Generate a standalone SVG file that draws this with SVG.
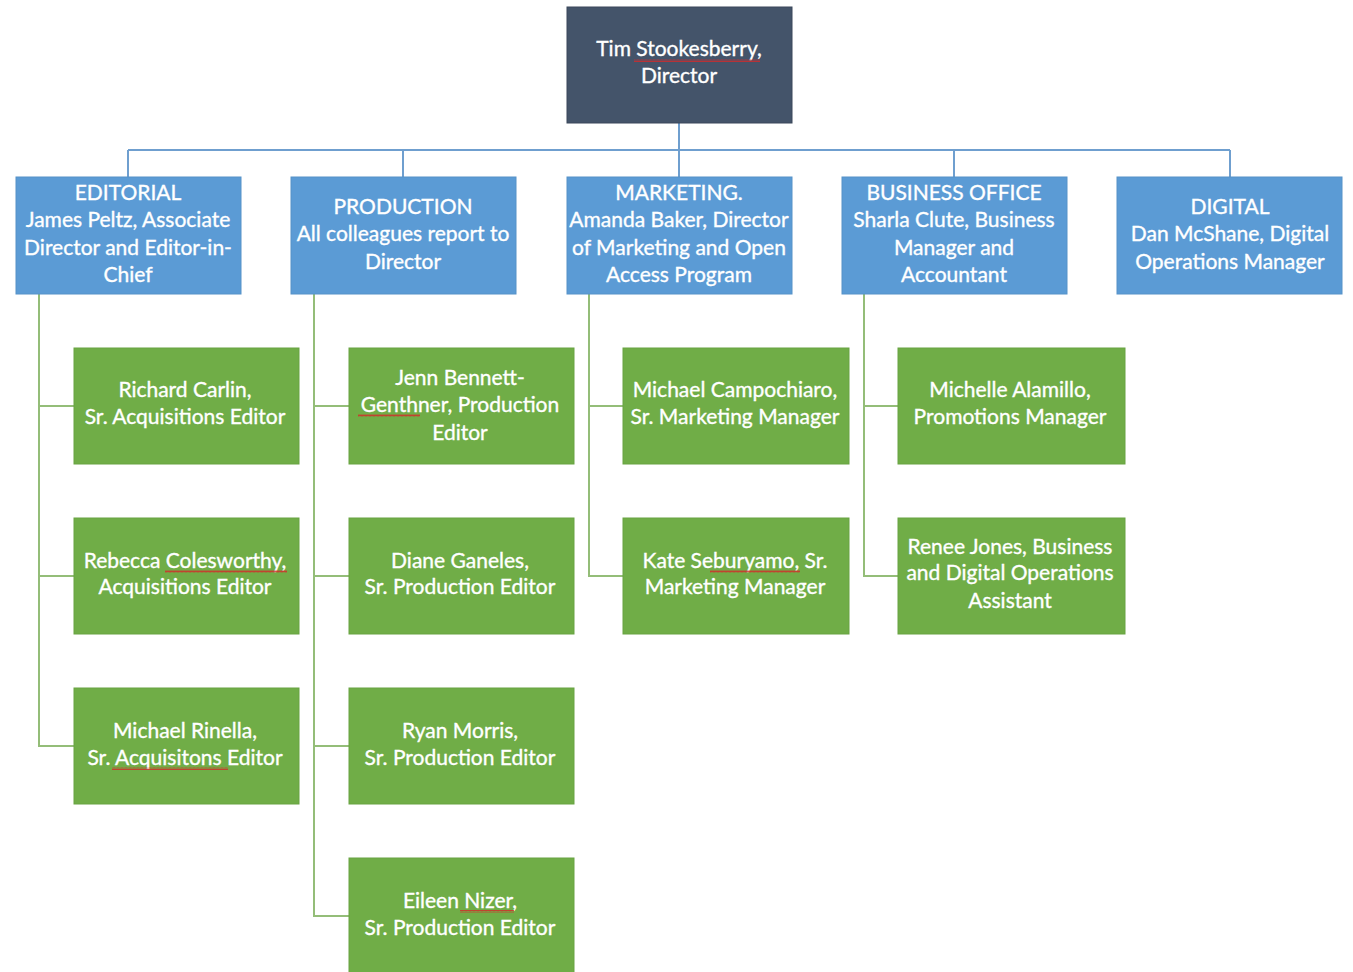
<svg xmlns="http://www.w3.org/2000/svg" width="1353" height="972" viewBox="0 0 1353 972">
<style>
.dir{fill:#44546A;stroke:#3a475a;stroke-width:1}
.dept{fill:#5B9BD5;stroke:#5692c8;stroke-width:1}
.staff{fill:#70AD47;stroke:#69a342;stroke-width:1}
text{font-family:Lato,"Open Sans",sans-serif;font-size:21px;fill:#ffffff;stroke:#ffffff;stroke-width:0.35;text-anchor:middle}
.blue{fill:none;stroke:#6f9fcf;stroke-width:2}
.green{fill:none;stroke:#94bd78;stroke-width:2}
</style>
<defs>
<pattern id="sq" width="4" height="3" patternUnits="userSpaceOnUse">
<path d="M0 2.5 L1 0.5 L2 2.5 L3 0.5 L4 2.5" fill="none" stroke="#d42a2a" stroke-width="0.8"/>
</pattern>
</defs>
<rect width="1353" height="972" fill="#ffffff"/>
<g id="connectors">
<path class="blue" d="M679 123 V150 M128 150 H1230 M128 150 V177 M403 150 V177 M679 150 V177 M954 150 V177 M1230 150 V177"/>
<path class="green" d="M39 294 V746 H74 M39 406 H74 M39 576 H74"/>
<path class="green" d="M314 294 V916 H349 M314 406 H349 M314 576 H349 M314 746 H349"/>
<path class="green" d="M589 294 V576 H623 M589 406 H623"/>
<path class="green" d="M864 294 V576 H898 M864 406 H898"/>
</g>
<g id="director">
<rect class="dir" x="567" y="7" width="225" height="116"/>
<text x="679" y="56">Tim Stookesberry,</text>
<text x="679" y="83">Director</text>
<rect x="634" y="59" width="126" height="3" fill="url(#sq)"/>
</g>
<g id="editorial">
<rect class="dept" x="16" y="177" width="225" height="117"/>
<text x="128" y="200">EDITORIAL</text>
<text x="128" y="227">James Peltz, Associate</text>
<text x="128" y="255">Director and Editor-in-</text>
<text x="128" y="282">Chief</text>
</g>
<g id="production">
<rect class="dept" x="291" y="177" width="225" height="117"/>
<text x="403" y="214">PRODUCTION</text>
<text x="403" y="241">All colleagues report to</text>
<text x="403" y="269">Director</text>
</g>
<g id="marketing">
<rect class="dept" x="567" y="177" width="225" height="117"/>
<text x="679" y="200">MARKETING.</text>
<text x="679" y="227">Amanda Baker, Director</text>
<text x="679" y="255">of Marketing and Open</text>
<text x="679" y="282">Access Program</text>
</g>
<g id="business">
<rect class="dept" x="842" y="177" width="225" height="117"/>
<text x="954" y="200">BUSINESS OFFICE</text>
<text x="954" y="227">Sharla Clute, Business</text>
<text x="954" y="255">Manager and</text>
<text x="954" y="282">Accountant</text>
</g>
<g id="digital">
<rect class="dept" x="1117" y="177" width="225" height="117"/>
<text x="1230" y="214">DIGITAL</text>
<text x="1230" y="241">Dan McShane, Digital</text>
<text x="1230" y="269">Operations Manager</text>
</g>
<g id="carlin">
<rect class="staff" x="74" y="348" width="225" height="116"/>
<text x="185" y="397">Richard Carlin,</text>
<text x="185" y="424">Sr. Acquisitions Editor</text>
</g>
<g id="colesworthy">
<rect class="staff" x="74" y="518" width="225" height="116"/>
<text x="185" y="568">Rebecca Colesworthy,</text>
<text x="185" y="594">Acquisitions Editor</text>
<rect x="165" y="570" width="122" height="3" fill="url(#sq)"/>
</g>
<g id="rinella">
<rect class="staff" x="74" y="688" width="225" height="116"/>
<text x="185" y="738">Michael Rinella,</text>
<text x="185" y="765">Sr. Acquisitons Editor</text>
<rect x="112" y="767" width="116" height="3" fill="url(#sq)"/>
</g>
<g id="bennett">
<rect class="staff" x="349" y="348" width="225" height="116"/>
<text x="460" y="385">Jenn Bennett-</text>
<text x="460" y="412">Genthner, Production</text>
<text x="460" y="440">Editor</text>
<rect x="358" y="414" width="62" height="3" fill="url(#sq)"/>
</g>
<g id="ganeles">
<rect class="staff" x="349" y="518" width="225" height="116"/>
<text x="460" y="568">Diane Ganeles,</text>
<text x="460" y="594">Sr. Production Editor</text>
</g>
<g id="morris">
<rect class="staff" x="349" y="688" width="225" height="116"/>
<text x="460" y="738">Ryan Morris,</text>
<text x="460" y="765">Sr. Production Editor</text>
</g>
<g id="nizer">
<rect class="staff" x="349" y="858" width="225" height="116"/>
<text x="460" y="908">Eileen Nizer,</text>
<text x="460" y="935">Sr. Production Editor</text>
<rect x="460" y="910" width="54" height="3" fill="url(#sq)"/>
</g>
<g id="campochiaro">
<rect class="staff" x="623" y="348" width="226" height="116"/>
<text x="735" y="397">Michael Campochiaro,</text>
<text x="735" y="424">Sr. Marketing Manager</text>
</g>
<g id="seburyamo">
<rect class="staff" x="623" y="518" width="226" height="116"/>
<text x="735" y="568">Kate Seburyamo, Sr.</text>
<text x="735" y="594">Marketing Manager</text>
<rect x="710" y="570" width="90" height="3" fill="url(#sq)"/>
</g>
<g id="alamillo">
<rect class="staff" x="898" y="348" width="227" height="116"/>
<text x="1010" y="397">Michelle Alamillo,</text>
<text x="1010" y="424">Promotions Manager</text>
</g>
<g id="jones">
<rect class="staff" x="898" y="518" width="227" height="116"/>
<text x="1010" y="554">Renee Jones, Business</text>
<text x="1010" y="580">and Digital Operations</text>
<text x="1010" y="608">Assistant</text>
</g>
</svg>
